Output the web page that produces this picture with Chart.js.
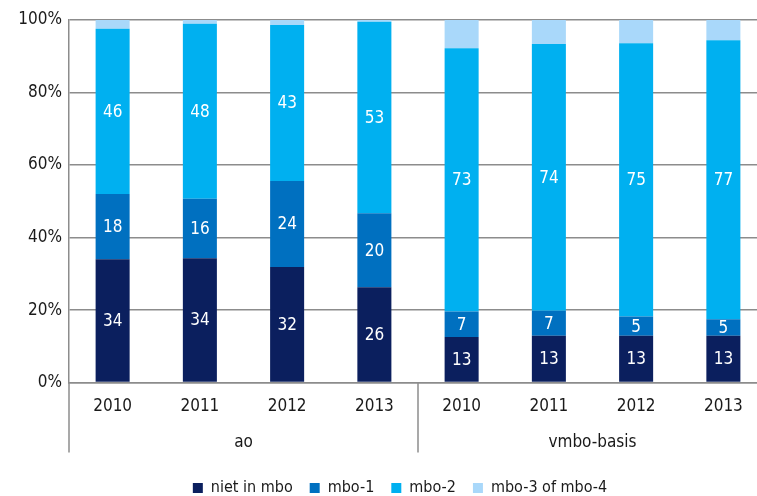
<!DOCTYPE html>
<html>
<head>
<meta charset="utf-8">
<script src="https://cdn.jsdelivr.net/npm/chart.js@4"></script>
<style>
  html, body { margin: 0; padding: 0; overflow: hidden; background: #fff; }
  #wrap { width: 757px; height: 496px; overflow: hidden; }
</style>
</head>
<body>
<div id="wrap"><canvas id="chart" width="800" height="496"></canvas></div>
<script>
const years = ['2010', '2011', '2012', '2013', '2010', '2011', '2012', '2013'];
const groups = ['ao', 'vmbo-basis'];

const nietInMbo = [34.0, 34.3, 31.9, 26.3, 12.6, 12.9, 12.9, 12.9];
const mbo1 = [18.0, 16.4, 23.7, 20.4, 7.0, 6.9, 5.3, 4.6];
const mbo2 = [45.6, 48.3, 43.0, 52.8, 72.6, 73.6, 75.4, 76.9];
const mbo34 = [2.4, 1.0, 1.4, 0.5, 7.8, 6.6, 6.4, 5.6];

const yTicks = [0, 20, 40, 60, 80, 100];

const FONT = "'DejaVu Sans Condensed', 'DejaVu Sans', sans-serif";
const GRID = '#8c8c8c';

// white value labels inside the bar segments (not on the top segment)
const valueLabels = {
  id: 'valueLabels',
  afterDatasetsDraw(chart) {
    const ctx = chart.ctx;
    ctx.save();
    ctx.fillStyle = '#ffffff';
    ctx.font = '17px ' + FONT;
    ctx.textAlign = 'center';
    ctx.textBaseline = 'middle';
    chart.data.datasets.forEach((ds, i) => {
      if (i > 2) return;
      chart.getDatasetMeta(i).data.forEach((bar, j) => {
        const y = (bar.y + bar.base) / 2;
        ctx.fillText(String(Math.round(ds.data[j])), bar.x, y + 1);
      });
    });
    ctx.restore();
  }
};

// group separators under the axis + let y labels use the left padding
const groupLines = {
  id: 'groupLines',
  afterLayout(chart) {
    chart.scales.y.left = 0;
  },
  afterDraw(chart) {
    const g = chart.scales.x2;
    const ctx = chart.ctx;
    const bottom = chart.chartArea.bottom;
    const xs = [g.left, (g.getPixelForValue(0) + g.getPixelForValue(1)) / 2, g.right];
    ctx.save();
    ctx.strokeStyle = GRID;
    ctx.lineWidth = 1.5;
    xs.forEach(x => {
      ctx.beginPath();
      ctx.moveTo(x, bottom);
      ctx.lineTo(x, bottom + 70);
      ctx.stroke();
    });
    ctx.restore();
  }
};

new Chart(document.getElementById('chart'), {
  type: 'bar',
  data: {
    labels: years,
    datasets: [
      { label: 'niet in mbo', data: nietInMbo, backgroundColor: '#0b1f5e' },
      { label: 'mbo-1', data: mbo1, backgroundColor: '#0070c0' },
      { label: 'mbo-2', data: mbo2, backgroundColor: '#00b0f0' },
      { label: 'mbo-3 of mbo-4', data: mbo34, backgroundColor: '#a9d8fa' }
    ]
  },
  options: {
    responsive: false,
    animation: false,
    layout: { padding: { top: 20, left: 33, right: 33, bottom: -10 } },
    datasets: { bar: { categoryPercentage: 1, barPercentage: 0.39 } },
    plugins: {
      legend: {
        position: 'bottom',
        labels: {
          color: '#1a1a1a',
          font: { family: FONT, size: 16 },
          boxWidth: 10,
          boxHeight: 10,
          padding: 17
        }
      },
      tooltip: { enabled: false }
    },
    scales: {
      x: {
        stacked: true,
        grid: { display: false, drawTicks: false },
        border: { color: GRID, width: 1.5 },
        ticks: { color: '#1a1a1a', font: { family: FONT, size: 17 }, padding: 14, maxRotation: 0 }
      },
      x2: {
        type: 'category',
        position: 'bottom',
        labels: groups,
        offset: true,
        afterFit: scale => { scale.height = 32; },
        grid: { display: false, drawTicks: false },
        border: { display: false },
        ticks: { color: '#1a1a1a', font: { family: FONT, size: 17 }, padding: 1, maxRotation: 0 }
      },
      y: {
        stacked: true,
        min: 0,
        max: 100,
        afterFit: scale => { scale.width = 36; },
        afterBuildTicks: scale => { scale.ticks = yTicks.map(v => ({ value: v })); },
        grid: { color: GRID, lineWidth: 1.5, drawTicks: false },
        border: { color: GRID, width: 1.5 },
        ticks: { color: '#1a1a1a', font: { family: FONT, size: 17 }, padding: 7, callback: v => v + '%' }
      }
    }
  },
  plugins: [valueLabels, groupLines]
});
</script>
</body>
</html>
